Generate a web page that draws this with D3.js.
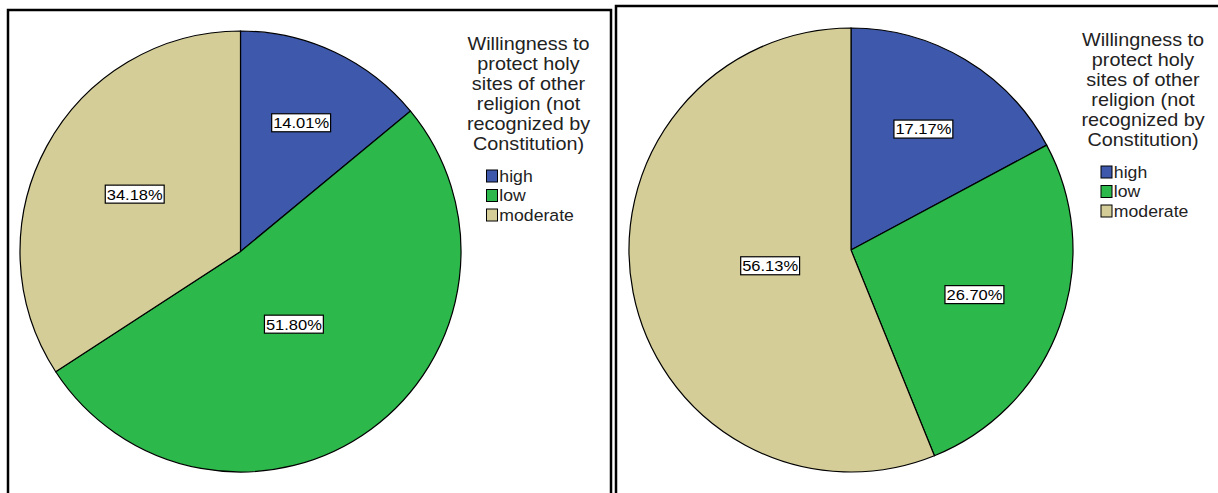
<!DOCTYPE html>
<html>
<head>
<meta charset="utf-8">
<script src="https://cdn.jsdelivr.net/npm/d3@7"></script>
<style>
  body { margin: 0; background: #fff; }
  svg { display: block; }
  text { font-family: "Liberation Sans", Arial, sans-serif; }
</style>
</head>
<body>
<svg id="chart" width="1218" height="493"></svg>
<script>
// categories and values
var categories = ["high", "low", "moderate"];
var leftValues = [14.01, 51.80, 34.18];
var rightValues = [17.17, 26.70, 56.13];
var legendTitle = ["Willingness to", "protect holy", "sites of other",
                   "religion (not", "recognized by", "Constitution)"];

var colours = d3.scaleOrdinal()
  .domain(categories)
  .range(["#3e58ab", "#2db84b", "#d4cd98"]);

var svg = d3.select("#chart");

// panel frames
svg.append("path")
  .attr("d", "M8,493 V10 H611 V493")
  .attr("fill", "none").attr("stroke", "#000").attr("stroke-width", 2.5);
svg.append("path")
  .attr("d", "M616,493 V6 H1218")
  .attr("fill", "none").attr("stroke", "#000").attr("stroke-width", 2.5);

function drawPie(values, cx, cy, r, lx, ly) {
  var g = svg.append("g").attr("transform", "translate(" + cx + "," + cy + ")");
  var pie = d3.pie().sort(null).value(function(d) { return d.v; });
  var arcs = pie(categories.map(function(c, i) { return {c: c, v: values[i]}; }));
  var arc = d3.arc().innerRadius(0).outerRadius(r);

  g.selectAll("path.slice")
    .data(arcs)
    .enter()
    .append("path")
    .attr("class", "slice")
    .attr("d", arc)
    .attr("fill", function(d) { return colours(d.data.c); })
    .attr("stroke", "#000")
    .attr("stroke-width", 1.2);

  // labels at the sector centroid
  arcs.forEach(function(d) {
    var half = (d.endAngle - d.startAngle) / 2;
    var mid = d.startAngle + half;
    var dist = 2 * r * Math.sin(half) / (3 * half);
    var x = dist * Math.sin(mid), y = -dist * Math.cos(mid);
    var lg = g.append("g").attr("transform", "translate(" + x + "," + y + ")");
    var t = lg.append("text")
      .attr("text-anchor", "middle")
      .attr("dy", "0.36em")
      .attr("font-size", 15)
      .attr("transform", "scale(1.1,1)")
      .attr("fill", "#000")
      .text(d.data.v.toFixed(2) + "%");
    var b = t.node().getBBox();
    var w = b.width * 1.1;
    lg.insert("rect", "text")
      .attr("x", -w / 2 - 1.5).attr("y", -9)
      .attr("width", w + 3).attr("height", 18)
      .attr("fill", "#fff").attr("stroke", "#000").attr("stroke-width", 1.2);
  });

  // legend
  var lgd = svg.append("g").attr("transform", "translate(" + lx + "," + ly + ")");
  lgd.append("g")
    .attr("transform", "scale(1.1,1)")
    .selectAll("text.title")
    .data(legendTitle)
    .enter()
    .append("text")
    .attr("class", "title")
    .attr("x", 0)
    .attr("y", function(d, i) { return i * 20; })
    .attr("text-anchor", "middle")
    .attr("font-size", 18)
    .attr("fill", "#222")
    .text(function(d) { return d; });

  var items = lgd.selectAll("g.item")
    .data(categories)
    .enter()
    .append("g")
    .attr("class", "item")
    .attr("transform", function(d, i) { return "translate(-42," + (126 + i * 19.5) + ")"; });
  items.append("rect")
    .attr("x", 0).attr("y", -6)
    .attr("width", 11).attr("height", 12)
    .attr("fill", function(d) { return colours(d); })
    .attr("stroke", "#000").attr("stroke-width", 1);
  items.append("text")
    .attr("x", 12).attr("dy", "0.36em")
    .attr("font-size", 16.5)
    .attr("transform", "scale(1.07,1)")
    .attr("fill", "#222")
    .text(function(d) { return d; });
}

drawPie(leftValues, 240.5, 251.5, 220.5, 528.5, 50);
drawPie(rightValues, 851, 250, 222, 1143, 46);
</script>
</body>
</html>
